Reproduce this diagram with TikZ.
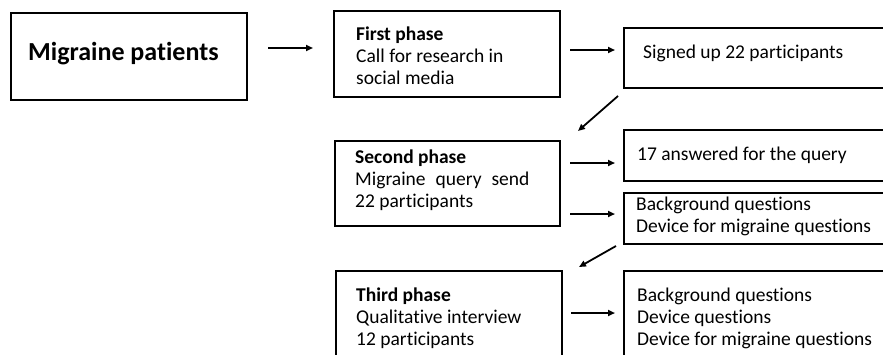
\documentclass[tikz,border=0pt]{standalone}
\usepackage{fontspec}
\setmainfont{Carlito}[RawFeature={-liga}]
\usetikzlibrary{arrows.meta}
\begin{document}
\begin{tikzpicture}[x=1pt,y=-1pt,
  box/.style={draw=black,line width=2pt,rectangle,inner sep=0pt,anchor=north west},
  txt/.style={anchor=west,align=left,inner sep=0pt,font=\fontsize{19.5}{22}\selectfont},
  arr/.style={line width=1.8pt,-{Triangle[length=7pt,width=6pt]}}]
\useasboundingbox (0,0) rectangle (883,354);
\begin{scope}
\clip (0,0) rectangle (883,354);
% boxes
\node[box,minimum width=236pt,minimum height=87pt] (mp) at (10,12) {};
\node[box,minimum width=226pt,minimum height=86pt] (p1) at (333,10) {};
\node[box,minimum width=280pt,minimum height=60pt] (s1) at (623,27) {};
\node[box,minimum width=225pt,minimum height=85pt] (p2) at (334,140) {};
\node[box,minimum width=280pt,minimum height=51pt] (r2a) at (623,129) {};
\node[box,minimum width=280pt,minimum height=51pt] (r2b) at (623,192) {};
\node[box,minimum width=226pt,minimum height=100pt] (p3) at (335,270) {};
\node[box,minimum width=280pt,minimum height=100pt] (r3) at (623,270) {};
% texts
\node[txt,font=\fontsize{26}{30}\selectfont\bfseries] (tmp) at (28,54) {Migraine patients};
\node[txt] (tp1) at (356,56) {\textbf{First phase}\\Call for research in\\social media};
\node[txt] (ts1) at (643,53) {Signed up 22 participants};
\node[txt] (tp2) at (355,180) {\textbf{Second phase}\\Migraine\hspace{10pt}query\hspace{10pt}send\\22 participants};
\node[txt] (tr2a) at (637,155) {17 answered for the query};
\node[txt] (tr2b) at (636,216) {Background questions\\Device for migraine questions};
\node[txt] (tp3) at (356,318) {\textbf{Third phase}\\Qualitative interview\\12 participants};
\node[txt] (tr3) at (637,318) {Background questions\\Device questions\\Device for migraine questions};
\end{scope}
% arrows
\draw[arr] ([xshift=20pt,yshift=8.5pt]mp.east) -- ([xshift=-20pt,yshift=6pt]p1.west);
\draw[arr] ([xshift=9pt,yshift=4pt]p1.east) -- ([xshift=-8pt,yshift=8pt]s1.west);
\draw[arr] ([xshift=-5pt,yshift=-7pt]s1.south west) -- ([xshift=17pt,yshift=9pt]p2.north east);
\draw[arr] ([xshift=9pt,yshift=20.5pt]p2.east) -- ([xshift=-8pt,yshift=-7.5pt]r2a.west);
\draw[arr] ([xshift=9pt,yshift=-30.5pt]p2.east) -- ([xshift=-8pt,yshift=4.5pt]r2b.west);
\draw[arr] ([xshift=-7pt,yshift=-1pt]r2b.south west) -- ([xshift=16pt,yshift=3pt]p3.north east);
\draw[arr] ([xshift=8pt,yshift=8pt]p3.east) -- ([xshift=-8pt,yshift=8pt]r3.west);
\end{tikzpicture}
\end{document}
